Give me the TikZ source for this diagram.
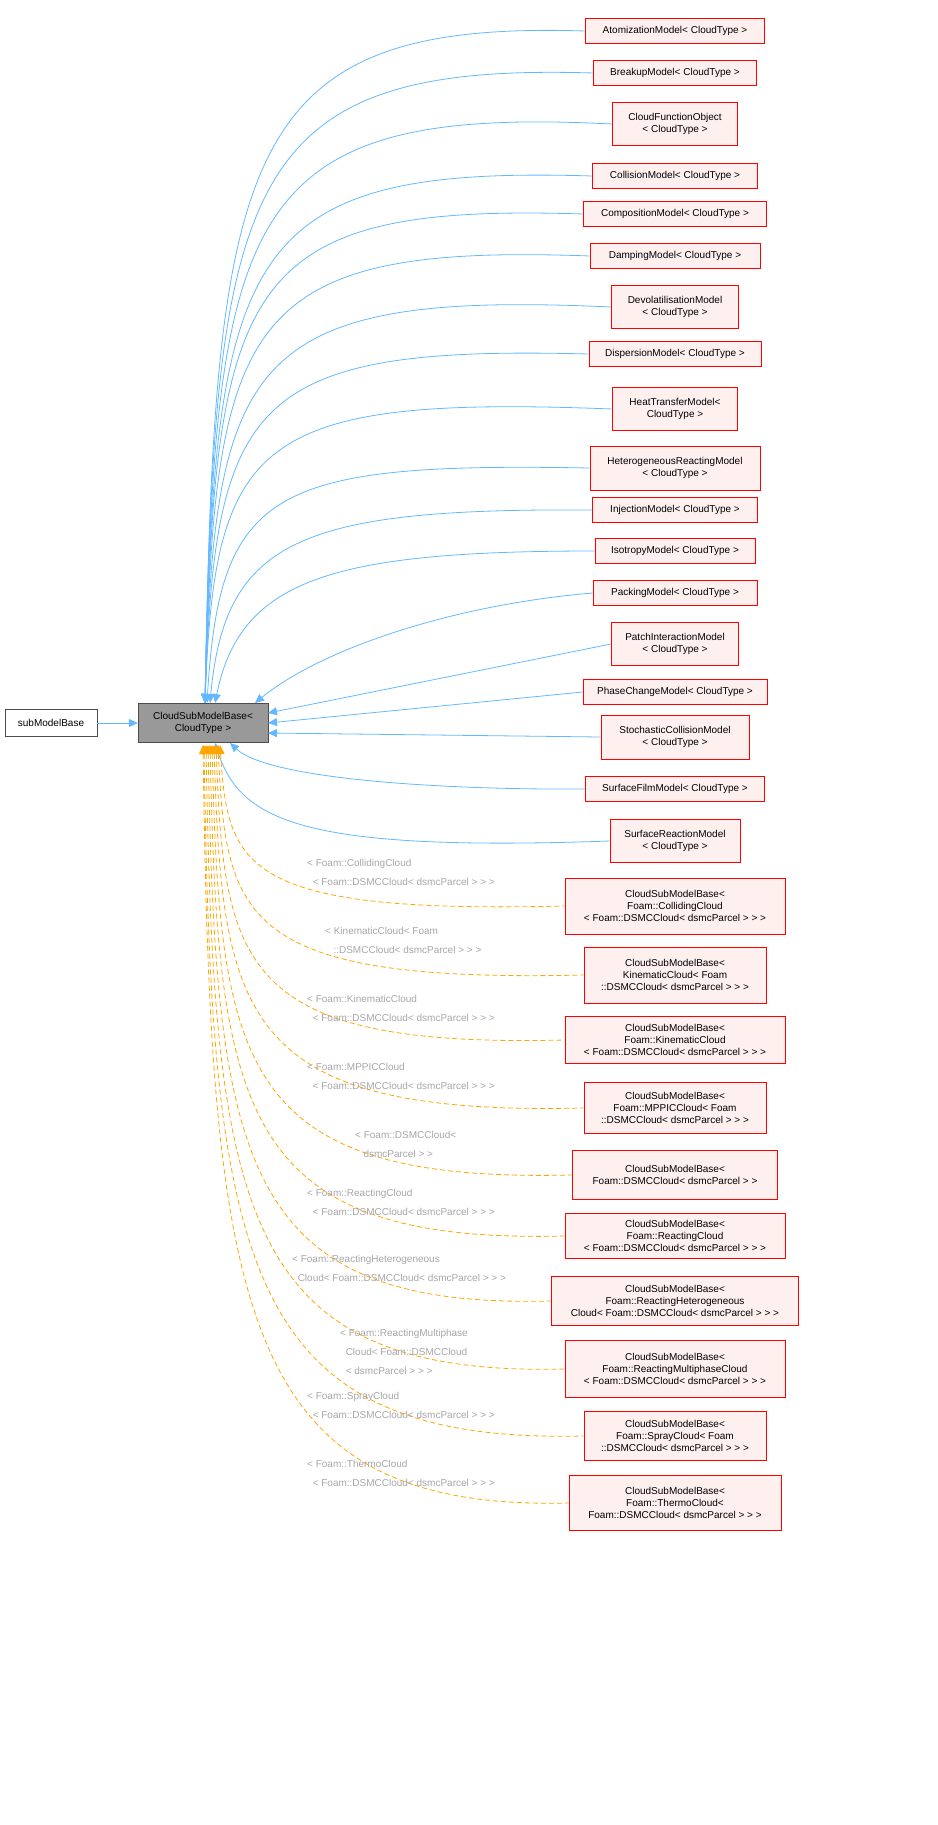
\documentclass[tikz,border=0pt]{standalone}
\usepackage{fontspec}
\setmainfont{Liberation Sans}
\usetikzlibrary{arrows.meta}
\definecolor{edgeb}{HTML}{63B8FF}
\definecolor{edgeo}{HTML}{FFA500}
\definecolor{redfill}{HTML}{FFF0F0}
\begin{document}
\begin{tikzpicture}[x=1pt,y=-1pt,
  box/.style={draw=red,fill=redfill,align=center,font=\fontsize{10}{12}\selectfont,inner sep=1pt,line width=0.8pt},
  blk/.style={draw=black!70,align=center,font=\fontsize{10}{12}\selectfont,inner sep=1pt},
  be/.style={draw=edgeb,line width=0.8pt,{Triangle[length=9pt,width=8pt]}-},
  oe/.style={draw=edgeo,line width=0.8pt,dashed,dash pattern=on 5pt off 3pt,{Triangle[length=9pt,width=8pt]}-},
  lbl/.style={text=black!35,align=left,anchor=west,font=\fontsize{10}{19}\selectfont,inner sep=0pt}]
\useasboundingbox (0,0) rectangle (937,1825);
\node[blk,minimum width=92pt,minimum height=27pt] (smb) at (51,723) {subModelBase};
\node[blk,fill=black!40,minimum width=130pt,minimum height=39pt] (base) at (203,723) {CloudSubModelBase<\\CloudType >};
\draw[be] (base.west) -- (smb.east);
% blue children
\foreach \n/\y/\w/\h/\t in {
 a1/31/179/25/{AtomizationModel< CloudType >},
 a2/73/163/25/{BreakupModel< CloudType >},
 a3/124/125/43/{CloudFunctionObject\\< CloudType >},
 a4/176/165/25/{CollisionModel< CloudType >},
 a5/214/183/25/{CompositionModel< CloudType >},
 a6/256/170/25/{DampingModel< CloudType >},
 a7/307/127/43/{DevolatilisationModel\\< CloudType >},
 a8/354/172/25/{DispersionModel< CloudType >},
 a9/409/125/43/{HeatTransferModel<\\CloudType >},
 a10/468/170/44/{HeterogeneousReactingModel\\< CloudType >},
 a11/510/165/25/{InjectionModel< CloudType >},
 a12/551/160/25/{IsotropyModel< CloudType >},
 a13/593/164/25/{PackingModel< CloudType >},
 a14/644/127/43/{PatchInteractionModel\\< CloudType >},
 a15/692/184/25/{PhaseChangeModel< CloudType >},
 a16/737/148/44/{StochasticCollisionModel\\< CloudType >},
 a17/789/179/25/{SurfaceFilmModel< CloudType >},
 a18/841/130/43/{SurfaceReactionModel\\< CloudType >}}
 {\node[box,minimum width=\w pt,minimum height=\h pt] (\n) at (675,\y) {\t};}
% blue edges
\draw[be] (205,703) .. controls (215,150) and (240,20) .. (a1.west);
\draw[be] (205,703) .. controls (215,180) and (240,62) .. (a2.west);
\draw[be] (205,703) .. controls (215,210) and (240,105) .. (a3.west);
\draw[be] (205,703) .. controls (215,250) and (240,165) .. (a4.west);
\draw[be] (205,703) .. controls (215,280) and (240,203) .. (a5.west);
\draw[be] (205,703) .. controls (215,320) and (240,243) .. (a6.west);
\draw[be] (205,703) .. controls (215,360) and (245,290) .. (a7.west);
\draw[be] (205,703) .. controls (215,400) and (250,345) .. (a8.west);
\draw[be] (205,703) .. controls (215,440) and (255,395) .. (a9.west);
\draw[be] (207,703) .. controls (220,490) and (270,462) .. (a10.west);
\draw[be] (210,703) .. controls (225,540) and (300,508) .. (a11.west);
\draw[be] (215,703) .. controls (240,580) and (330,551) .. (a12.west);
\draw[be] (255,703) .. controls (320,650) and (450,605) .. (a13.west);
\draw[be] (268,713) -- (a14.west);
\draw[be] (268,723) -- (a15.west);
\draw[be] (268,733) -- (a16.west);
\draw[be] (230,743) .. controls (270,780) and (450,790) .. (a17.west);
\draw[be] (215,743) .. controls (240,820) and (300,852) .. (a18.west);
% orange children
\foreach \n/\y/\w/\h/\t in {
 b1/906/220/56/{CloudSubModelBase<\\Foam::CollidingCloud\\< Foam::DSMCCloud< dsmcParcel > > >},
 b2/975/182/56/{CloudSubModelBase<\\KinematicCloud< Foam\\::DSMCCloud< dsmcParcel > > >},
 b3/1040/220/47/{CloudSubModelBase<\\Foam::KinematicCloud\\< Foam::DSMCCloud< dsmcParcel > > >},
 b4/1108/182/51/{CloudSubModelBase<\\Foam::MPPICCloud< Foam\\::DSMCCloud< dsmcParcel > > >},
 b5/1175/205/49/{CloudSubModelBase<\\Foam::DSMCCloud< dsmcParcel > >},
 b6/1236/220/45/{CloudSubModelBase<\\Foam::ReactingCloud\\< Foam::DSMCCloud< dsmcParcel > > >},
 b7/1301/247/49/{CloudSubModelBase<\\Foam::ReactingHeterogeneous\\Cloud< Foam::DSMCCloud< dsmcParcel > > >},
 b8/1369/220/57/{CloudSubModelBase<\\Foam::ReactingMultiphaseCloud\\< Foam::DSMCCloud< dsmcParcel > > >},
 b9/1436/182/49/{CloudSubModelBase<\\Foam::SprayCloud< Foam\\::DSMCCloud< dsmcParcel > > >},
 b10/1503/212/55/{CloudSubModelBase<\\Foam::ThermoCloud<\\Foam::DSMCCloud< dsmcParcel > > >}}
 {\node[box,minimum width=\w pt,minimum height=\h pt] (\n) at (675,\y) {\t};}
\foreach \n/\y/\x in {b1/906/220,b2/975/218,b3/1040/216,b4/1108/214,b5/1175/212,b6/1236/210,b7/1301/208,b8/1369/206,b9/1436/204,b10/1503/203}
 {\draw[oe] (\x,745) .. controls ({\x+8},{745+(\y-745)*0.75}) and (240,{\y+8}) .. (\n.west);}
% labels
\node[lbl] (l1) at (307,872) {< Foam::CollidingCloud\\\ \ < Foam::DSMCCloud< dsmcParcel > > >};
\node[lbl] (l2) at (325,940) {< KinematicCloud< Foam\\\ \ \ ::DSMCCloud< dsmcParcel > > >};
\node[lbl] (l3) at (307,1008) {< Foam::KinematicCloud\\\ \ < Foam::DSMCCloud< dsmcParcel > > >};
\node[lbl] (l4) at (307,1076) {< Foam::MPPICCloud\\\ \ < Foam::DSMCCloud< dsmcParcel > > >};
\node[lbl] (l5) at (355,1144) {< Foam::DSMCCloud<\\\ \ \ dsmcParcel > >};
\node[lbl] (l6) at (307,1202) {< Foam::ReactingCloud\\\ \ < Foam::DSMCCloud< dsmcParcel > > >};
\node[lbl] (l7) at (292,1268) {< Foam::ReactingHeterogeneous\\\ \ Cloud< Foam::DSMCCloud< dsmcParcel > > >};
\node[lbl] (l8) at (340,1352) {< Foam::ReactingMultiphase\\\ \ Cloud< Foam::DSMCCloud\\\ \ < dsmcParcel > > >};
\node[lbl] (l9) at (307,1405) {< Foam::SprayCloud\\\ \ < Foam::DSMCCloud< dsmcParcel > > >};
\node[lbl] (l10) at (307,1473) {< Foam::ThermoCloud\\\ \ < Foam::DSMCCloud< dsmcParcel > > >};
\end{tikzpicture}
\end{document}
